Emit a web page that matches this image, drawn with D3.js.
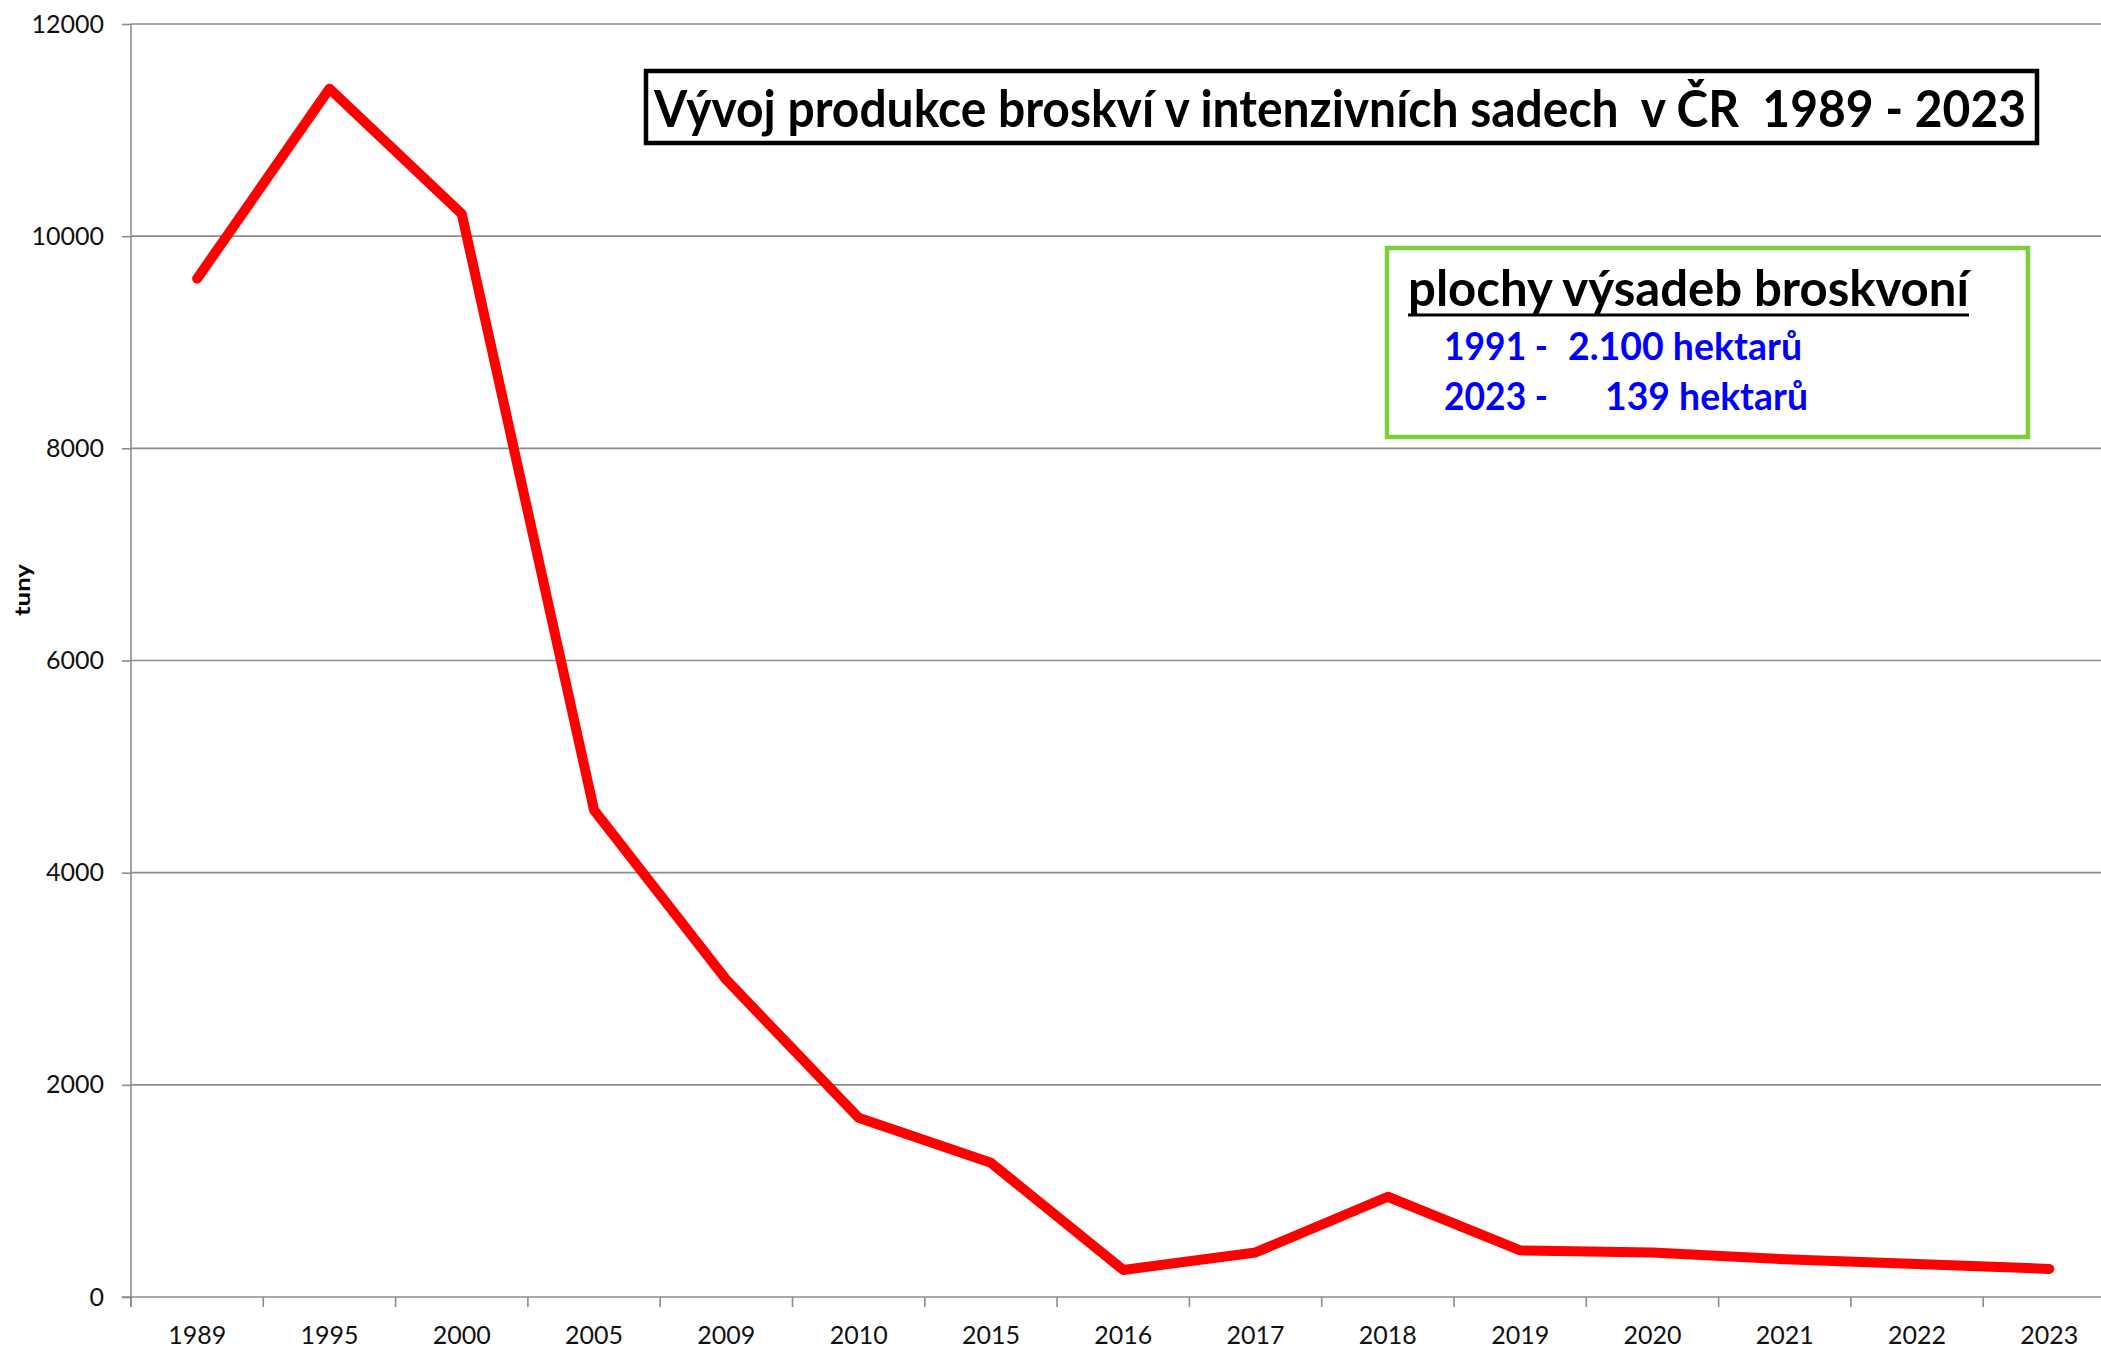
<!DOCTYPE html>
<meta charset="utf-8">
<style>

body {
  margin: 0;
  background: #fff;
}

.grid line {
  stroke: #8c8c8c;
  stroke-width: 1.6px;
}

.axis path,
.axis line {
  fill: none;
  stroke: #8c8c8c;
  stroke-width: 1.6px;
}

.axis text {
  font: 25px Lato, "Open Sans", sans-serif;
  fill: #111;
}

.line {
  fill: none;
  stroke: #ff0000;
  stroke-width: 10px;
  stroke-linecap: round;
  stroke-linejoin: round;
}

</style>
<svg width="2101" height="1355"></svg>
<script src="https://d3js.org/d3.v7.min.js"></script>
<script>

var years = ["1989", "1995", "2000", "2005", "2009", "2010", "2015", "2016",
             "2017", "2018", "2019", "2020", "2021", "2022", "2023"];

var tons = [9600, 11390, 10210, 4590, 2990, 1690, 1265, 255,
            420, 945, 440, 420, 355, 310, 265];

var yTicks = [0, 2000, 4000, 6000, 8000, 10000, 12000];

var title = "Vývoj produkce broskví v intenzivních sadech  v ČR  1989 - 2023";
var boxHeading = "plochy výsadeb broskvoní";
var boxRows = [["1991 -", "2.100 hektarů"], ["2023 -", "139 hektarů"]];

var svg = d3.select("svg"),
    plotLeft = 131,
    plotTop = 24,
    plotBottom = 1297,
    step = 132.3;

var x = d3.scaleBand()
    .domain(years)
    .range([plotLeft, plotLeft + step * years.length]);

var y = d3.scaleLinear()
    .domain([0, 12000])
    .range([plotBottom, plotTop]);

// horizontal gridlines
svg.append("g")
    .attr("class", "grid")
  .selectAll("line")
  .data(yTicks.slice(1))
  .enter().append("line")
    .attr("x1", plotLeft)
    .attr("x2", 2101)
    .attr("y1", function(d) { return y(d); })
    .attr("y2", function(d) { return y(d); });

// y axis
svg.append("g")
    .attr("class", "axis axis--y")
    .attr("transform", "translate(" + plotLeft + ",0)")
    .call(d3.axisLeft(y).tickValues(yTicks).tickFormat(d3.format("d")).tickSizeInner(9).tickSizeOuter(0).tickPadding(18))
    .call(function(g) { g.select(".domain").attr("d", "M0," + plotTop + "V" + (plotBottom + 10)); });

// x axis, ticks sit on the category boundaries like in Excel
var xAxis = svg.append("g")
    .attr("class", "axis axis--x")
    .attr("transform", "translate(0," + plotBottom + ")");

xAxis.append("line")
    .attr("x1", plotLeft - 9)
    .attr("x2", 2101);

xAxis.selectAll(".tick-mark")
  .data(years)
  .enter().append("line")
    .attr("class", "tick-mark")
    .attr("x1", function(d) { return x(d); })
    .attr("x2", function(d) { return x(d); })
    .attr("y2", 10);

xAxis.selectAll("text")
  .data(years)
  .enter().append("text")
    .attr("x", function(d) { return x(d) + x.bandwidth() / 2; })
    .attr("y", 47)
    .attr("text-anchor", "middle")
    .text(function(d) { return d; });

// y label
svg.append("text")
    .attr("transform", "translate(30,590) rotate(-90)")
    .attr("text-anchor", "middle")
    .attr("textLength", 52)
    .attr("lengthAdjust", "spacingAndGlyphs")
    .style("font", "bold 20px Lato, sans-serif")
    .text("tuny");

// the series
var line = d3.line()
    .x(function(d, i) { return x(years[i]) + x.bandwidth() / 2; })
    .y(function(d) { return y(d); });

svg.append("path")
    .datum(tons)
    .attr("class", "line")
    .attr("d", line);

// title box
svg.append("rect")
    .attr("x", 646)
    .attr("y", 71)
    .attr("width", 1391)
    .attr("height", 72)
    .attr("fill", "#fff")
    .attr("stroke", "#000")
    .attr("stroke-width", 4.5);

svg.append("text")
    .attr("x", 654)
    .attr("y", 127)
    .attr("textLength", 1372)
    .attr("lengthAdjust", "spacingAndGlyphs")
    .style("white-space", "pre")
    .style("font", "bold 51px Lato, sans-serif")
    .text(title);

// area note box
svg.append("rect")
    .attr("x", 1387)
    .attr("y", 248)
    .attr("width", 641)
    .attr("height", 189)
    .attr("fill", "#fff")
    .attr("stroke", "#7ccd3a")
    .attr("stroke-width", 4.5);

svg.append("text")
    .attr("x", 1408)
    .attr("y", 306)
    .attr("textLength", 561)
    .attr("lengthAdjust", "spacingAndGlyphs")
    .style("font", "bold 49px Lato, sans-serif")
    .text(boxHeading);

svg.append("line")
    .attr("x1", 1408)
    .attr("x2", 1969)
    .attr("y1", 315)
    .attr("y2", 315)
    .attr("stroke", "#000")
    .attr("stroke-width", 3);

var rowY = [360, 410],
    valueX = [1568, 1605],
    valueLen = [234, 203];

boxRows.forEach(function(r, i) {
  svg.append("text")
      .attr("x", 1444)
      .attr("y", rowY[i])
      .attr("textLength", 104)
      .attr("lengthAdjust", "spacingAndGlyphs")
      .style("font", "bold 38px Lato, sans-serif")
      .style("fill", "#0000ff")
      .text(r[0]);

  svg.append("text")
      .attr("x", valueX[i])
      .attr("y", rowY[i])
      .attr("textLength", valueLen[i])
      .attr("lengthAdjust", "spacingAndGlyphs")
      .style("font", "bold 38px Lato, sans-serif")
      .style("fill", "#0000ff")
      .text(r[1]);
});

</script>
